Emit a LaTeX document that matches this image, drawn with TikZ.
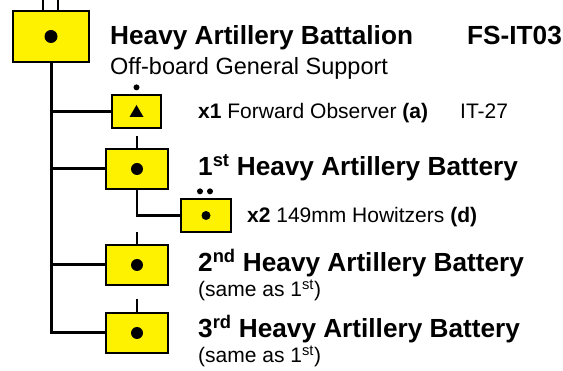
\documentclass[tikz,border=0pt]{standalone}
\usepackage{fontspec}
\setmainfont{Liberation Sans}
\usepackage{tikz}

\begin{document}
\begin{tikzpicture}[x=1pt,y=-1pt,
	unit/.style={rectangle,draw=black,line width=1.3pt,fill=yellow,inner sep=0pt},
	link/.style={line width=3pt,draw=black},
	tick/.style={line width=2.5pt,draw=black},
	txt/.style={anchor=base west,inner sep=0pt},
	big/.style={font=\bfseries\fontsize{26.2}{30}\selectfont},
	small/.style={font=\fontsize{21}{25}\selectfont}]
	\useasboundingbox (0,0) rectangle (563,371);
	\node[unit,minimum width=76,minimum height=51] (bn) at (51,36.5) {};
	\node[unit,minimum width=49,minimum height=33] (fo) at (136.5,111.5) {};
	\node[unit,minimum width=62,minimum height=40] (b1) at (137,169) {};
	\node[unit,minimum width=50,minimum height=33] (how) at (206,215.5) {};
	\node[unit,minimum width=62,minimum height=40] (b2) at (137,265) {};
	\node[unit,minimum width=62,minimum height=40] (b3) at (137,333) {};
	\node[txt,big] (bntitle) at (110,45) {Heavy Artillery Battalion};
	\node[txt,big] (bnid) at (467,45) {FS-IT03};
	\node[txt,font=\fontsize{23.5}{28}\selectfont] (bnrole) at (110,75) {Off-board General Support};
	\node[txt,small] (fotxt) at (198,119) {\textbf{x1} Forward Observer \textbf{(a)}};
	\node[txt,small] (foref) at (460,119) {IT-27};
	\node[txt,big] (b1txt) at (198,176) {1\textsuperscript{st} Heavy Artillery Battery};
	\node[txt,small] (howtxt) at (247,223) {\textbf{x2} 149mm Howitzers \textbf{(d)}};
	\node[txt,big] (b2txt) at (198,272) {2\textsuperscript{nd} Heavy Artillery Battery};
	\node[txt,small] (b2note) at (198,297) {(same as 1\textsuperscript{st})};
	\node[txt,big] (b3txt) at (198,338) {3\textsuperscript{rd} Heavy Artillery Battery};
	\node[txt,small] (b3note) at (198,363) {(same as 1\textsuperscript{st})};
	\draw[link] (bn.south) |- (b3.west);
	\draw[link] (bn.south |- fo.west) -- (fo.west);
	\draw[link] (bn.south |- b1.west) -- (b1.west);
	\draw[link] (bn.south |- b2.west) -- (b2.west);
	\draw[tick] (b1.south) |- (how.west);
	\draw[tick] ([xshift=-8]bn.north) -- +(0,-11);
	\draw[tick] ([xshift=7]bn.north) -- +(0,-11);
	\draw[tick] (b1.north) -- +(0,-12);
	\draw[tick] (b2.north) -- +(0,-12);
	\draw[tick] (b3.north) -- +(0,-13);
	\fill (bn.center) circle (6.5);
	\fill (b1.center) circle (6);
	\fill (b2.center) circle (6);
	\fill (b3.center) circle (6);
	\fill (how.center) circle (4.5);
	\fill ([shift={(-7,5.5)}]fo.center) -- ([shift={(7,5.5)}]fo.center) -- ([shift={(0,-6.5)}]fo.center) -- cycle;
	\fill ([yshift=7]fo.north) circle (3);
	\fill ([shift={(-6,-7)}]how.north) circle (3);
	\fill ([shift={(4,-7)}]how.north) circle (3);
\end{tikzpicture}
\end{document}
